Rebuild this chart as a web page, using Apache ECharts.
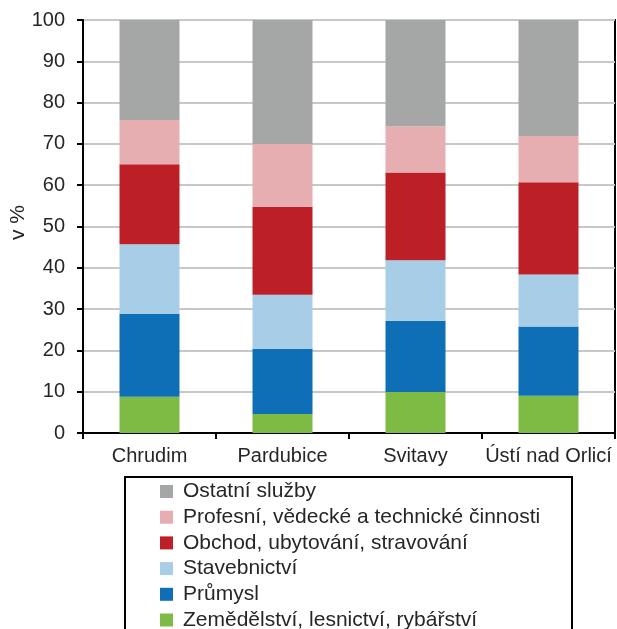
<!DOCTYPE html>
<html>
<head>
<meta charset="utf-8">
<script src="https://cdn.jsdelivr.net/npm/echarts@6/dist/echarts.min.js"></script>
<style>html,body{margin:0;padding:0;background:#fff}#c{width:617px;height:629px}</style>
</head>
<body>
<div id="c"></div>
<script>
const categories = ['Chrudim', 'Pardubice', 'Svitavy', 'Ústí nad Orlicí'];
const seriesNames = ['Zemědělství, lesnictví, rybářství', 'Průmysl', 'Stavebnictví', 'Obchod, ubytování, stravování', 'Profesní, vědecké a technické činnosti', 'Ostatní služby'];
const zemedelstvi = [8.8, 4.6, 9.9, 9.0];
const prumysl = [20.0, 15.8, 17.3, 16.8];
const stavebnictvi = [16.9, 13.1, 14.6, 12.6];
const obchod = [19.4, 21.3, 21.3, 22.3];
const profesni = [10.7, 15.2, 11.2, 11.2];
const ostatni = [24.2, 30.0, 25.7, 28.1];
const yTicks = [0, 10, 20, 30, 40, 50, 60, 70, 80, 90, 100];
const colors = ['#7DBB45', '#0E6FB6', '#A7CDE7', '#BC2026', '#E6AEB1', '#A5A7A6'];
const values = [zemedelstvi, prumysl, stavebnictvi, obchod, profesni, ostatni];

const font = 'Liberation Sans, Arial, sans-serif';
const chart = echarts.init(document.getElementById('c'));
chart.setOption({
  animation: false,
  grid: { left: 83, right: 2, top: 20, bottom: 196, show: true, borderColor: '#000', borderWidth: 2, backgroundColor: 'transparent' },
  xAxis: {
    type: 'category', data: categories,
    axisLine: { lineStyle: { color: '#000', width: 2 } },
    axisTick: { show: true, length: 6, lineStyle: { color: '#000', width: 2 } },
    axisLabel: { color: '#262626', fontSize: 20, fontFamily: font, margin: 13, interval: 0 }
  },
  yAxis: {
    type: 'value', min: yTicks[0], max: yTicks[yTicks.length - 1], interval: 10,
    axisLine: { show: true, lineStyle: { color: '#000', width: 2 } },
    axisTick: { show: true, length: 6, lineStyle: { color: '#000', width: 2 } },
    axisLabel: { color: '#262626', fontSize: 20, fontFamily: font, margin: 18 },
    splitLine: { lineStyle: { color: '#C8C8C8', width: 2 } }
  },
  legend: {
    orient: 'vertical', left: 160, top: 481, height: 220, padding: 0,
    itemWidth: 13, itemHeight: 13, itemGap: 4.7,
    icon: 'rect',
    data: seriesNames.slice().reverse(),
    textStyle: { color: '#262626', fontSize: 21, fontFamily: font, lineHeight: 21, padding: [0, 0, 0, 5] }
  },
  graphic: [
    { type: 'rect', shape: { x: 125, y: 477, width: 447, height: 200 }, style: { fill: 'none', stroke: '#000', lineWidth: 2 }, z: -1 },
    { type: 'text', x: 18.5, y: 222.5, rotation: Math.PI / 2, style: { text: 'v %', fontSize: 21, fontFamily: font, fill: '#262626', align: 'center', verticalAlign: 'middle' } }
  ],
  series: seriesNames.map((n, i) => ({
    name: n, type: 'bar', stack: 'total', data: values[i], barWidth: 60,
    itemStyle: { color: colors[i] }
  }))
});
</script>
</body>
</html>
